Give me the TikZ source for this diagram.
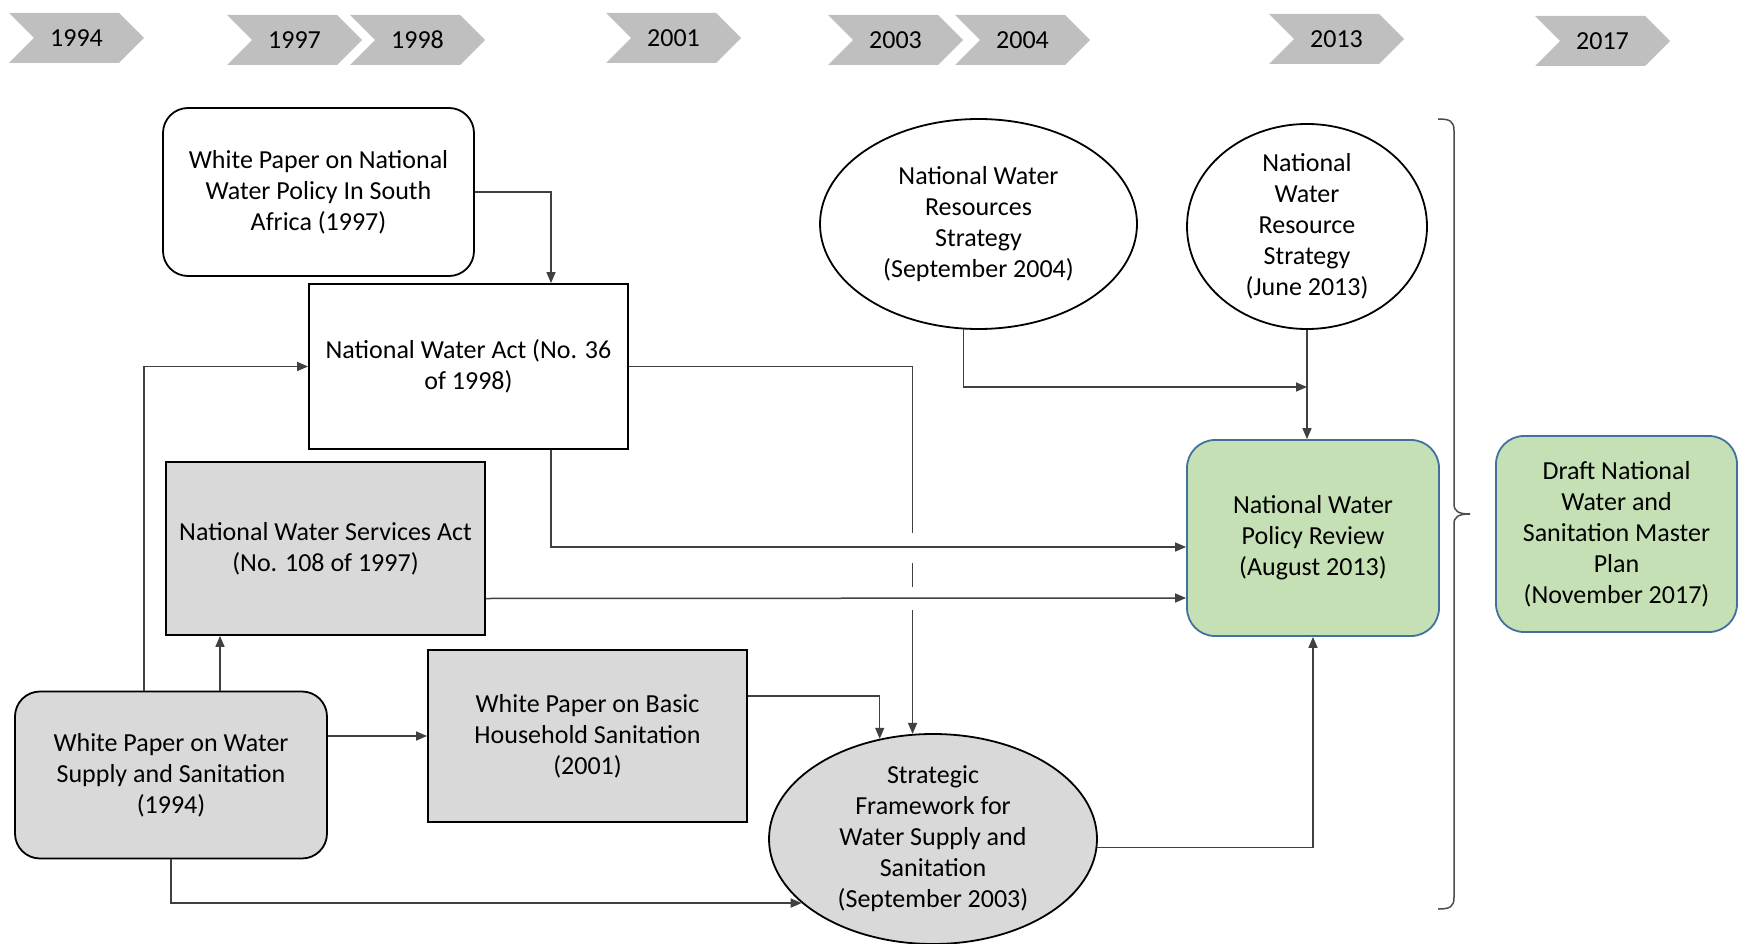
\documentclass[tikz,border=0pt]{standalone}
\usepackage{fontspec}
\setmainfont{Carlito}
\usetikzlibrary{arrows.meta,shapes.geometric}

\definecolor{chevgray}{HTML}{BFBFBF}
\definecolor{boxgray}{HTML}{D9D9D9}
\definecolor{leafgreen}{HTML}{C5E0B4}
\definecolor{edgeblue}{HTML}{41719C}
\definecolor{linegray}{HTML}{404040}

\tikzset{
  base/.style={draw=black, line width=1.8pt, align=center, inner sep=0pt,
               font=\fontsize{26}{31}\selectfont},
  sqbox/.style={base, rectangle},
  rbox/.style={base, rectangle, rounded corners=25pt},
  oval/.style={base, ellipse, inner ysep=-6pt},
  greenbox/.style={base, rectangle, rounded corners=28pt, fill=leafgreen, draw=edgeblue},
  conn/.style={draw=linegray, line width=1.5pt, -{Triangle[length=11pt,width=9pt]}},
  yearlabel/.style={font=\fontsize{26}{30}\selectfont, inner sep=0pt},
}

% year marker: name, left x, top y, label
\newcommand{\yearchevron}[4]{%
  \fill[chevgray] (#2,#3) -- ++(110,0) -- ++(25,25) -- ++(-25,25) -- ++(-110,0) -- ++(25,-25) -- cycle;
  \node[yearlabel] (#1) at ({#2+67.5},{#3+25}) {#4};
}

\begin{document}
\begin{tikzpicture}[x=1pt, y=-1pt]
\useasboundingbox (0,0) rectangle (1738,944);

% timeline
\yearchevron{y1994}{9}{13}{1994}
\yearchevron{y1997}{227}{15}{1997}
\yearchevron{y1998}{350}{15}{1998}
\yearchevron{y2001}{606}{13}{2001}
\yearchevron{y2003}{828}{15}{2003}
\yearchevron{y2004}{955}{15}{2004}
\yearchevron{y2013}{1269}{14}{2013}
\yearchevron{y2017}{1535}{16}{2017}

% policy documents
\node[rbox, minimum width=311pt, minimum height=168pt] (wpnp) at (318.5,192)
  {White Paper on National\\Water Policy In South\\Africa (1997)};
\node[sqbox, minimum width=319pt, minimum height=165pt] (nwa) at (468.5,366.5)
  {National Water Act (No. 36\\of 1998)};
\node[sqbox, fill=boxgray, minimum width=319pt, minimum height=173pt] (nwsa) at (325.5,548.5)
  {National Water Services Act\\(No. 108 of 1997)};
\node[rbox, fill=boxgray, minimum width=312pt, minimum height=167pt] (wpws) at (171,775)
  {White Paper on Water\\Supply and Sanitation\\(1994)};
\node[sqbox, fill=boxgray, minimum width=319pt, minimum height=172pt] (wpbs) at (587.5,736)
  {White Paper on Basic\\Household Sanitation\\(2001)};
\node[oval, fill=boxgray, minimum width=328pt, minimum height=210pt] (sfws) at (933,839)
  {Strategic\\Framework for\\Water Supply and\\Sanitation\\(September 2003)};
\node[oval, minimum width=317pt, minimum height=210pt] (nwrs04) at (978.5,224)
  {National Water\\Resources\\Strategy\\(September 2004)};
\node[oval, minimum width=240pt, minimum height=205pt] (nwrs13) at (1307,226.5)
  {National\\Water\\Resource\\Strategy\\(June 2013)};
\node[greenbox, minimum width=252pt, minimum height=196pt] (nwpr) at (1313,538)
  {National Water\\Policy Review\\(August 2013)};
\node[greenbox, minimum width=241pt, minimum height=196pt] (dmp) at (1616.5,534)
  {Draft National\\Water and\\Sanitation Master\\Plan\\(November 2017)};

% connectors
\draw[conn] (wpnp.east) -| ([xshift=82.5pt]nwa.north);
\draw[conn] ([xshift=-27pt]wpws.north) |- (nwa.west);
\draw[conn] ([xshift=49pt]wpws.north) -- ([xshift=49pt]wpws.north |- nwsa.south);
\draw[conn] (wpws.east |- wpbs.west) -- (wpbs.west);
\draw[conn] (wpws.south) |- (sfws.206);
\draw[conn] ([yshift=40pt]wpbs.east) -| (sfws.118);
\draw[conn] (nwa.east) -| (sfws.101);

% line hops where the act connector passes the review arrows
\fill[white] (905,533) rectangle (921,563);
\fill[white] (905,587) rectangle (921,610);

\draw[conn] ([xshift=82.5pt]nwa.south) |- ([yshift=-9pt]nwpr.west);
\draw[conn] ([yshift=-50pt]nwsa.east) -- ([yshift=-60pt]nwpr.west);

\coordinate (join) at (nwrs13.south |- 0,387);
\draw[conn] (nwrs04.262) |- (join);
\draw[conn] (nwrs13.south) -- (nwrs13.south |- nwpr.north);
\draw[conn] (sfws.-3) -| (nwpr.south);

% brace grouping the documents up to 2013
\draw[draw=black!70, line width=1.5pt]
  (1438,119) .. controls (1450,119) and (1454,121) .. (1454,131)
  -- (1454,504) .. controls (1454,511) and (1458,514) .. (1470,514)
  .. controls (1458,514) and (1454,517) .. (1454,524)
  -- (1454,897) .. controls (1454,907) and (1450,909) .. (1438,909);
\end{tikzpicture}
\end{document}
